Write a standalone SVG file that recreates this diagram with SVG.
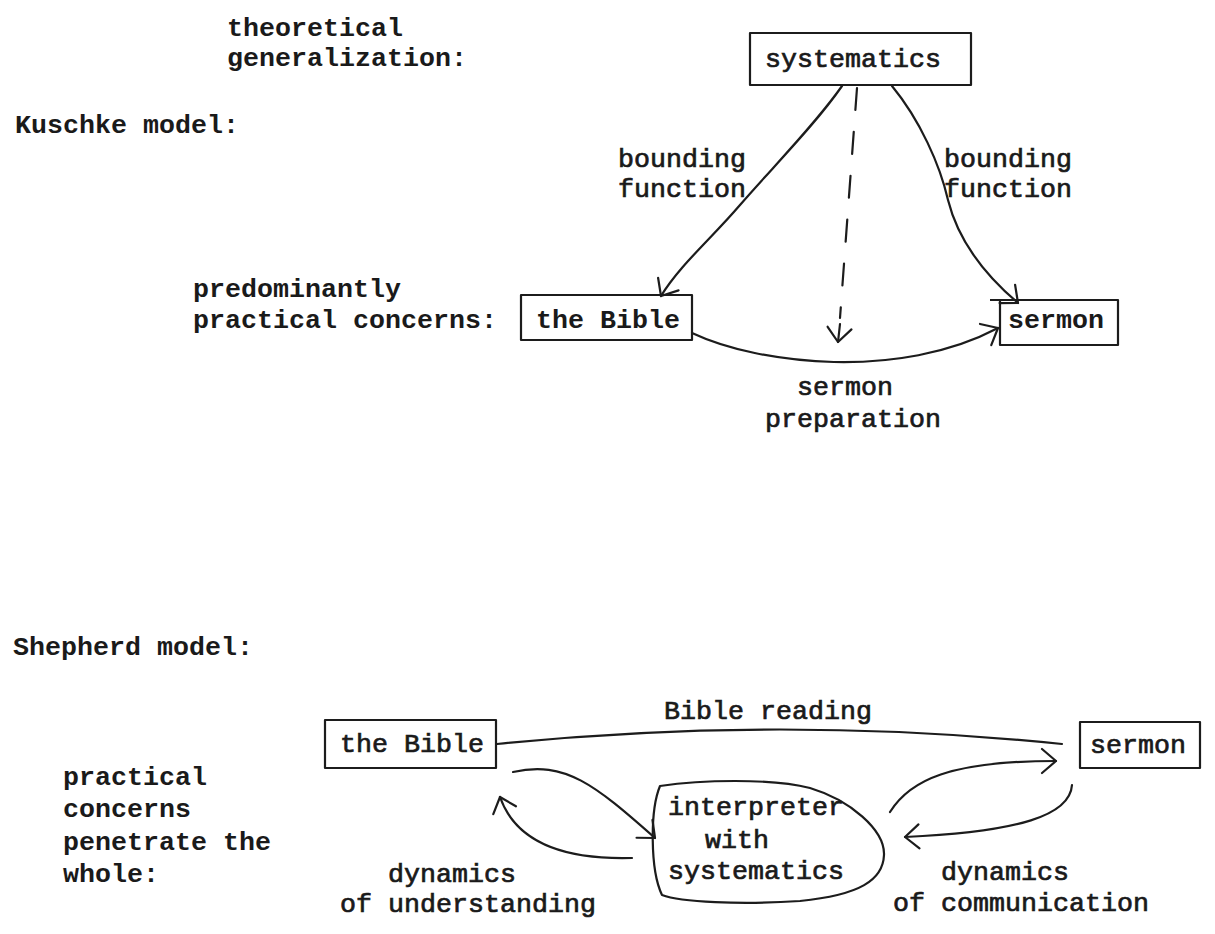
<svg xmlns="http://www.w3.org/2000/svg" width="1215" height="934" viewBox="0 0 1215 934">
<style>
text{font-family:"Liberation Mono","Courier New",monospace;font-size:26.67px;fill:#1a1a1a;font-weight:bold}
.hand{font-weight:normal;stroke:#1a1a1a;stroke-width:0.7}
.box{fill:none;stroke:#1c1c1c;stroke-width:2.2;stroke-linejoin:round}
.ln{fill:none;stroke:#1c1c1c;stroke-width:2.2;stroke-linecap:round}
.dash{stroke-dasharray:22 22}
</style>
<defs>
<marker id="ah" markerUnits="userSpaceOnUse" viewBox="-20 -20 40 40" markerWidth="40" markerHeight="40" refX="0" refY="0" orient="auto">
<path d="M-14,-12 L0,0 L-14,12" fill="none" stroke="#1c1c1c" stroke-width="2.2" stroke-linecap="round" stroke-linejoin="round"/>
</marker>
</defs>
<rect width="1215" height="934" fill="#ffffff"/>

<g id="labels">
<text x="227" y="36">theoretical</text>
<text x="227" y="66">generalization:</text>
<text x="15" y="133">Kuschke model:</text>
<text x="193" y="297">predominantly</text>
<text x="193" y="328">practical concerns:</text>
<text x="13" y="655">Shepherd model:</text>
<text x="63" y="785">practical</text>
<text x="63" y="817">concerns</text>
<text x="63" y="850">penetrate the</text>
<text x="63" y="882">whole:</text>
</g>

<g id="k-systematics">
<rect class="box" x="750" y="33" width="221" height="52"/>
<text class="hand" x="765" y="67">systematics</text>
</g>
<g id="k-bible">
<rect class="box" x="521" y="295" width="171" height="45"/>
<text x="536" y="328">the Bible</text>
</g>
<g id="k-sermon">
<path class="box" d="M990,300 L1118,300 L1118,345 L1000,345 L1000,300"/>
<text x="1008" y="328">sermon</text>
</g>

<g id="s-bible">
<rect class="box" x="325" y="720" width="171" height="48"/>
<text class="hand" x="340" y="752">the Bible</text>
</g>
<g id="s-sermon">
<rect class="box" x="1080" y="722" width="120" height="46"/>
<text class="hand" x="1090" y="753">sermon</text>
</g>
<g id="s-interpreter">
<path class="box" d="M660,786 C700,780 770,778 810,788 C850,800 885,830 884,855 C883,880 860,895 800,901 C740,905 680,902 662,895 C650,870 650,810 660,786 Z"/>
<text class="hand" x="668" y="815">interpreter</text>
<text class="hand" x="705" y="848">with</text>
<text class="hand" x="668" y="879">systematics</text>
</g>

<g id="connectors">
<path class="ln" d="M842,86 C815,125 770,170 740,205 C710,240 680,265 661,296" marker-end="url(#ah)"/>
<path class="ln" d="M892,86 C920,120 940,165 948,200 C958,240 985,275 1018,303" marker-end="url(#ah)"/>
<path class="ln dash" d="M857,88 L840,318"/>
<path class="ln" d="M840,324 L838,342" marker-end="url(#ah)"/>
<path class="ln" d="M692,333 C760,365 900,380 998,328" marker-end="url(#ah)"/>

<path class="ln" d="M497,744 Q780,715 1062,744"/>
<path class="ln" d="M513,772 C565,760 595,785 655,838" marker-end="url(#ah)"/>
<path class="ln" d="M632,858 C560,860 515,840 500,797" marker-end="url(#ah)"/>
<path class="ln" d="M890,812 C910,780 950,761 1056,761" marker-end="url(#ah)"/>
<path class="ln" d="M1072,785 C1070,815 1020,832 905,837" marker-end="url(#ah)"/>
</g>

<g id="connector-labels">
<text class="hand" x="618" y="167">bounding</text>
<text class="hand" x="618" y="197">function</text>
<text class="hand" x="944" y="167">bounding</text>
<text class="hand" x="944" y="197">function</text>
<text class="hand" x="797" y="395">sermon</text>
<text class="hand" x="765" y="427">preparation</text>
<text class="hand" x="664" y="719">Bible reading</text>
<text class="hand" x="388" y="882">dynamics</text>
<text class="hand" x="340" y="912">of understanding</text>
<text class="hand" x="941" y="880">dynamics</text>
<text class="hand" x="893" y="911">of communication</text>
</g>
</svg>
